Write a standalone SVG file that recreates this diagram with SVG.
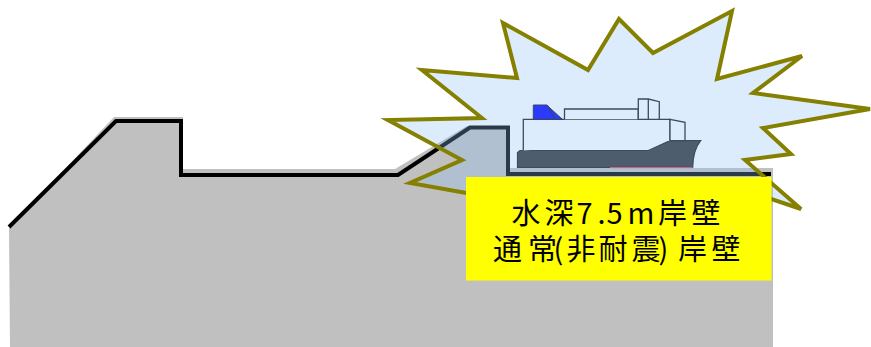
<svg xmlns="http://www.w3.org/2000/svg" width="871" height="347" viewBox="0 0 871 347">
  <style>
    .ground { fill: #c0c0c0; }
    .profile { fill: none; stroke: #000; stroke-width: 4; stroke-linejoin: miter; }
    .burst-fill { fill: rgb(142,192,245); fill-opacity: 0.3; stroke: none; }
    .burst-edge { fill: none; stroke: #858000; stroke-width: 4; stroke-linejoin: miter; }
    .hull { fill: #333; stroke: #1c1c1c; stroke-width: 1.2; }
    .deck { fill: #fff; stroke: #1a1a1a; stroke-width: 1.3; }
    .funnel { fill: #0000ff; stroke: #101030; stroke-width: 1; }
    .label-box { fill: #ffff00; }
    .label { font-family: "Noto Sans CJK JP", "Noto Sans", sans-serif; font-size: 29px; fill: #000; }
  </style>

  <defs>
    <path id="burst-shape" d="M503,23 L588,70 L619,19 L653,53 L732,11 L717,79 L802,56 L753,93 L870,109 L763,128 L791,154 L745,160 L801,209 L730,185 L620,270 L500,199 L410,183 L462,160 L388,120 L482,118 L422,70 L517,78 Z"/>
  </defs>

  <!-- ground section -->
  <g id="ground">
    <path class="ground" d="M10,347 L9,228 L114,117 L183,117 L183,169 L395,169 L467,126 L506,126 L506,168 L773,168 L773,347 Z"/>
    <path class="profile" d="M9,227 L116,121 L181,121 L181,175 L398,175 L470,127.5 L508,127.5 L508,174 L771,174"/>
  </g>

  <!-- moored ship -->
  <g id="ship">
    <path class="hull" d="M517.5,167.3 L517.5,152.5 L520,150.5 L648.3,150.5 L670,140.7 L700.7,140.7 Q693,150 692.7,167.3 Z"/>
    <line x1="610" y1="167.6" x2="692.5" y2="167.6" stroke="#ff5060" stroke-width="1.2" stroke-opacity="0.8"/>
    <path class="deck" d="M523.3,150.5 L523.3,119.3 L670,119.3 L670,140.7"/>
    <path class="deck" d="M670,119.3 L685,122.3 L685,140.7 L670,140.7 Z"/>
    <path class="deck" d="M564.5,119.3 L564.5,109 L638.3,109 L638.3,119.3"/>
    <path class="deck" d="M638.3,119.3 L638.3,99 L648.3,99 L659.3,101.7 L659.3,119.3 Z"/>
    <line x1="648.3" y1="99" x2="648.3" y2="119.3" stroke="#1a1a1a" stroke-width="1.3"/>
    <path class="funnel" d="M533.3,119.3 L533.3,105 L546.7,105 L562.3,119.3 Z"/>
    <line x1="547.5" y1="105.5" x2="555" y2="119.3" stroke="#101030" stroke-width="1.2"/>
  </g>

  <!-- impact burst -->
  <g id="burst">
    <use href="#burst-shape" class="burst-fill"/>
    <use href="#burst-shape" class="burst-edge"/>
  </g>

  <!-- caption -->
  <g id="caption">
    <rect class="label-box" x="466" y="177" width="305.5" height="103.5"/>
    <text class="label">
      <tspan x="511.5 544.5 576.5 597.5 606.5 627.5 658 691.5" y="223.5">水深7.5m岸壁</tspan>
      <tspan x="493 528 553.5 566.5 598.5 631.5 658.5 678 711.5" y="259.5">通常(非耐震)岸壁</tspan>
    </text>
  </g>
</svg>
